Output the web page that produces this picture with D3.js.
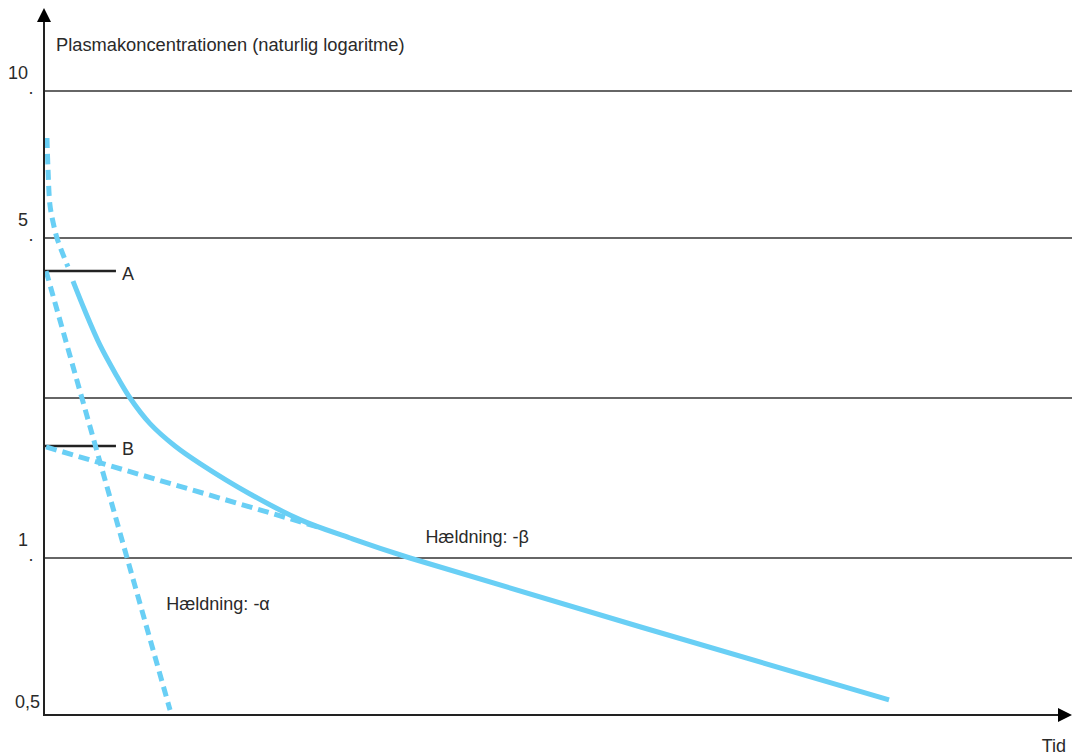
<!DOCTYPE html>
<html>
<head>
<meta charset="utf-8">
<script src="https://cdn.jsdelivr.net/npm/d3@7"></script>
<style>
  html, body { margin: 0; padding: 0; background: #fff; }
  svg { display: block; }
  text { font-family: "Liberation Sans", Arial, Helvetica, sans-serif; fill: #2a2a2a; }
</style>
</head>
<body>
<svg id="chart" width="1075" height="756"></svg>
<script>
// Concentration levels with horizontal reference lines, and the labelled ticks
const gridValues = [1, 2, 5, 10];
const tickValues = [0.5, 1, 5, 10];
const tickLabels = ["0,5", "1", "5", "10"];

// Measured plasma concentration: early (distribution) phase, drawn dashed
const earlyTime = [0.29, 0.39, 0.58, 0.88, 1.26, 1.75, 2.33];
const earlyConc = [8.40, 7.35, 6.12, 5.54, 5.00, 4.74, 4.46];

// Measured plasma concentration, drawn solid
const curveTime = [2.82, 3.99, 5.45, 6.91, 8.37, 10.31, 12.74, 15.18, 20.04, 24.90, 29.77, 35.60, 82.2];
const curveConc = [4.19, 3.63, 2.99, 2.47, 2.00, 1.84, 1.70, 1.59, 1.40, 1.24, 1.125, 1.00, 0.548];

// Extrapolated straight lines for each phase: slope -alpha and slope -beta
const alphaTime = [0.2, 12.26];
const alphaConc = [4.38, 0.516];
const betaTime = [0.2, 26.85];
const betaConc = [1.694, 1.19];

// Intercepts marked on the concentration axis
const markerNames = ["A", "B"];
const markerConc = [4.38, 1.70];
const markerEnd = 7;

// Slope annotations
const noteText = ["Hældning: -α", "Hældning: -β"];
const noteTime = [11.9, 37.1];
const noteConc = [0.834, 1.094];

const svg = d3.select("#chart");
const blue = "#69cff5";
const ink = "#222";

const x = d3.scaleLinear().domain([0, 100]).range([44, 1072]);
// schematic concentration axis: labelled levels evenly spread
const y = d3.scaleLinear().domain([0.5, 1, 2, 5, 10]).range([715, 558, 398, 238, 91]);

// reference lines
svg.append("g").selectAll("line").data(gridValues).join("line")
  .attr("x1", x(0)).attr("x2", x(100))
  .attr("y1", d => y(d)).attr("y2", d => y(d))
  .attr("stroke", "#333").attr("stroke-width", 1.3);

// tick labels, each sitting above a small dot at its level
const ticks = svg.append("g").selectAll("g").data(tickValues).join("g");
ticks.append("text")
  .attr("x", d => d === 0.5 ? 40 : 28)
  .attr("y", d => d === 0.5 ? y(d) - 7 : y(d) - 12)
  .attr("text-anchor", "end")
  .attr("font-size", 18)
  .text((d, i) => tickLabels[i]);
ticks.filter(d => d !== 0.5).append("text")
  .attr("x", 31).attr("y", d => y(d) + 3)
  .attr("text-anchor", "middle")
  .attr("font-size", 18)
  .text(".");

// A and B markers
const marks = svg.append("g").selectAll("g").data(markerConc).join("g");
marks.append("line")
  .attr("x1", x(0)).attr("x2", x(markerEnd))
  .attr("y1", d => y(d)).attr("y2", d => y(d))
  .attr("stroke", ink).attr("stroke-width", 2.6);
marks.append("text")
  .attr("x", x(markerEnd) + 6).attr("y", d => y(d) + 9)
  .attr("font-size", 18)
  .text((d, i) => markerNames[i]);

const line = d3.line().x(d => x(d[0])).y(d => y(d[1]));
const smooth = d3.line().x(d => x(d[0])).y(d => y(d[1])).curve(d3.curveCatmullRom.alpha(0.5));

// phase lines
svg.append("path")
  .attr("d", line(d3.zip(alphaTime, alphaConc)))
  .attr("fill", "none").attr("stroke", blue).attr("stroke-width", 5)
  .attr("stroke-dasharray", "10,6");
svg.append("path")
  .attr("d", line(d3.zip(betaTime, betaConc)))
  .attr("fill", "none").attr("stroke", blue).attr("stroke-width", 5)
  .attr("stroke-dasharray", "11,6");

// concentration curve
svg.append("path")
  .attr("d", smooth(d3.zip(earlyTime, earlyConc)))
  .attr("fill", "none").attr("stroke", blue).attr("stroke-width", 5)
  .attr("stroke-dasharray", "10,6");
svg.append("path")
  .attr("d", smooth(d3.zip(curveTime, curveConc)))
  .attr("fill", "none").attr("stroke", blue).attr("stroke-width", 5);

// slope annotations
svg.append("g").selectAll("text").data(noteText).join("text")
  .attr("x", (d, i) => x(noteTime[i]))
  .attr("y", (d, i) => y(noteConc[i]))
  .attr("font-size", 18)
  .text(d => d);

// axes with arrowheads
svg.append("line")
  .attr("x1", x(0)).attr("x2", x(0)).attr("y1", y(0.5) + 1).attr("y2", 20)
  .attr("stroke", ink).attr("stroke-width", 2);
svg.append("path")
  .attr("d", `M${x(0)},8 L${x(0) + 7},22 L${x(0) - 7},22 Z`)
  .attr("fill", "#000");
svg.append("line")
  .attr("x1", x(0) - 1).attr("x2", 1060).attr("y1", y(0.5)).attr("y2", y(0.5))
  .attr("stroke", ink).attr("stroke-width", 2);
svg.append("path")
  .attr("d", `M1072,${y(0.5)} L1058,${y(0.5) - 7} L1058,${y(0.5) + 7} Z`)
  .attr("fill", "#000");

svg.append("text")
  .attr("x", 56).attr("y", 51)
  .attr("font-size", 18.3)
  .text("Plasmakoncentrationen (naturlig logaritme)");
svg.append("text")
  .attr("x", 1066).attr("y", 752)
  .attr("text-anchor", "end")
  .attr("font-size", 18)
  .text("Tid");
</script>
</body>
</html>
